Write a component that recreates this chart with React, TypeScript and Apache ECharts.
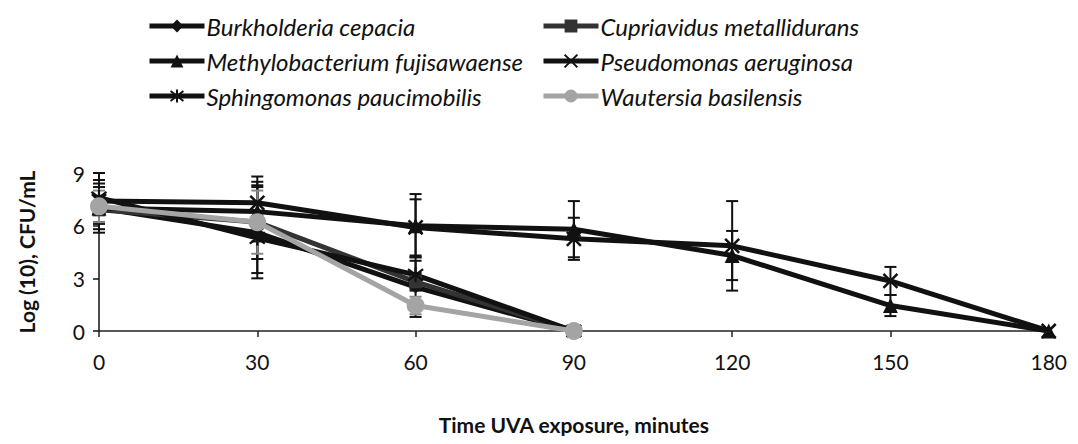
import React, { useEffect, useRef } from "react";
import * as echarts from "echarts";

const timePoints = [0, 30, 60, 90, 120, 150, 180];
const yTicks = [0, 3, 6, 9];

const burkholderia = [7.0, 5.6, 2.5, 0];
const burkholderiaErr = [1.2, 2.6, 1.7, 0];
const cupriavidus = [6.9, 6.2, 2.8, 0];
const cupriavidusErr = [0.8, 2.1, 0.5, 0];
const methylobacterium = [7.0, 6.8, 6.0, 5.8, 4.3, 1.45, 0];
const methylobacteriumErr = [1.4, 1.7, 1.8, 1.6, 1.4, 0.6, 0];
const pseudomonas = [7.4, 7.3, 5.9, 5.25, 4.85, 2.85, 0];
const pseudomonasErr = [1.2, 1.5, 1.6, 1.2, 2.55, 0.8, 0];
const sphingomonas = [7.6, 5.3, 3.2, 0];
const sphingomonasErr = [1.4, 2.0, 0.8, 0];
const wautersia = [7.1, 6.2, 1.45, 0];
const wautersiaErr = [0.9, 1.8, 0.5, 0];

const X_PATH = "path://M0,0 L10,10 M10,0 L0,10";
const STAR_PATH = "path://M0,0 L10,10 M10,0 L0,10 M5,-1.5 L5,11.5";

const FONT = "Lato, 'Open Sans', sans-serif";

export default function App() {
  const ref = useRef<HTMLDivElement>(null);
  useEffect(() => {
    if (!ref.current) return;
    const chart = echarts.init(ref.current, null, { renderer: "svg" });

    const defs = [
      { name: "Burkholderia cepacia", vals: burkholderia, err: burkholderiaErr, color: "#111111", symbol: "diamond", size: 13, bw: 0 },
      { name: "Cupriavidus metallidurans", vals: cupriavidus, err: cupriavidusErr, color: "#333333", symbol: "rect", size: 13, bw: 0 },
      { name: "Methylobacterium fujisawaense", vals: methylobacterium, err: methylobacteriumErr, color: "#111111", symbol: "triangle", size: 15, bw: 0 },
      { name: "Pseudomonas aeruginosa", vals: pseudomonas, err: pseudomonasErr, color: "#111111", symbol: X_PATH, size: 14, bw: 2.5 },
      { name: "Sphingomonas paucimobilis", vals: sphingomonas, err: sphingomonasErr, color: "#111111", symbol: STAR_PATH, size: 15, bw: 2.2 },
      { name: "Wautersia basilensis", vals: wautersia, err: wautersiaErr, color: "#a4a4a4", symbol: "circle", size: 18, bw: 0 },
    ];

    const errSeries = defs.map((d) => ({
      type: "custom",
      name: d.name + " err",
      z: 1,
      clip: false,
      data: d.vals.map((v, i) => [timePoints[i], v - d.err[i], v + d.err[i], d.err[i]]),
      renderItem: (params: any, api: any) => {
        if (api.value(3) <= 0) return null;
        const x = api.value(0);
        const top = api.coord([x, api.value(2)]);
        const bot = api.coord([x, api.value(1)]);
        const w = 6;
        const st = { stroke: d.name.startsWith("Wautersia") ? "#888888" : "#111111", lineWidth: 2 };
        return {
          type: "group",
          children: [
            { type: "line", shape: { x1: top[0], y1: top[1], x2: bot[0], y2: bot[1] }, style: st },
            { type: "line", shape: { x1: top[0] - w, y1: top[1], x2: top[0] + w, y2: top[1] }, style: st },
            { type: "line", shape: { x1: bot[0] - w, y1: bot[1], x2: bot[0] + w, y2: bot[1] }, style: st },
          ],
        };
      },
    }));

    const lineSeries = defs.map((d) => ({
      type: "line",
      name: d.name,
      z: 3,
      clip: false,
      data: d.vals.map((v, i) => [timePoints[i], v]),
      symbol: d.symbol,
      symbolSize: d.size,
      showAllSymbol: true,
      lineStyle: { color: d.color, width: 5 },
      itemStyle: { color: d.color, borderColor: d.color, borderWidth: d.bw },
    }));

    const legendText = { fontFamily: FONT, fontStyle: "italic", fontSize: 24, color: "#111111", lineHeight: 24, padding: [0, 0, 0, -3] };
    const legendCommon = {
      orient: "vertical",
      top: 1,
      itemWidth: 55,
      itemHeight: 16,
      itemGap: 11,
      lineStyle: { width: 5 },
      textStyle: legendText,
    };

    chart.setOption({
      animation: false,
      backgroundColor: "#ffffff",
      legend: [
        {
          ...legendCommon,
          left: 134,
          data: ["Burkholderia cepacia", "Methylobacterium fujisawaense", "Sphingomonas paucimobilis"],
        },
        {
          ...legendCommon,
          left: 528,
          data: ["Cupriavidus metallidurans", "Pseudomonas aeruginosa", "Wautersia basilensis"],
        },
      ],
      grid: { left: 83, right: 15, top: 165, bottom: 94 },
      xAxis: {
        type: "value",
        min: timePoints[0],
        max: timePoints[timePoints.length - 1],
        interval: 30,
        splitLine: { show: false },
        axisLine: { lineStyle: { color: "#222222", width: 1.5 } },
        axisTick: { show: true, length: 6, lineStyle: { color: "#222222", width: 1.5 } },
        axisLabel: { fontFamily: FONT, fontSize: 21, color: "#111111", margin: 20 },
        name: "Time UVA exposure, minutes",
        nameLocation: "middle",
        nameGap: 83,
        nameTextStyle: { fontFamily: FONT, fontWeight: "bold", fontSize: 21, color: "#111111" },
      },
      yAxis: {
        type: "value",
        min: yTicks[0],
        max: yTicks[yTicks.length - 1],
        interval: 3,
        splitLine: { show: false },
        axisLine: { show: true, lineStyle: { color: "#111111", width: 1.5 } },
        axisTick: { show: true, length: 6, lineStyle: { color: "#111111", width: 1.5 } },
        axisLabel: { fontFamily: FONT, fontSize: 21, color: "#111111", margin: 14 },
        name: "Log (10), CFU/mL",
        nameLocation: "middle",
        nameGap: 62,
        nameTextStyle: { fontFamily: FONT, fontWeight: "bold", fontSize: 21, color: "#111111" },
      },
      series: [...errSeries, ...lineSeries],
    });
    return () => chart.dispose();
  }, []);
  return <div ref={ref} style={{ width: 1062, height: 428 }} />;
}
